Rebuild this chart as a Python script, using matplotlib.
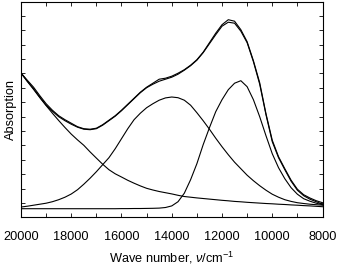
import numpy as np
import matplotlib
matplotlib.use('Agg')
import matplotlib.pyplot as plt

plt.rcParams['font.family'] = ['Liberation Sans', 'DejaVu Sans']
plt.rcParams['mathtext.fontset'] = 'custom'
plt.rcParams['mathtext.rm'] = 'Liberation Sans'
plt.rcParams['mathtext.it'] = 'Liberation Sans:italic'

# wave numbers (cm-1), every 250 from 20000 down to 8000
wavenumber = list(range(20000, 7999, -250))

# absorption, arbitrary units
experimental = [135.7, 128.5, 121.5, 113, 105, 98.5, 93, 89, 85.5, 82,
                80, 79.5, 80.5, 84, 88.5, 93, 98.5, 104.5, 110.5, 116.5,
                121.5, 125.5, 129.5, 130.5, 132.5, 135.5, 139, 143.5, 149, 156.5,
                166, 175.5, 184, 189, 187.5, 179, 167, 148, 126, 95,
                68.5, 52, 40, 28.5, 19.5, 14, 10.7, 8, 6]
fit_sum = [135.7, 127.5, 120, 111.5, 103.5, 97.5, 92, 88, 84.5, 81.5,
           79.5, 79, 80, 83.5, 88, 92.5, 98, 104, 110, 116,
           121, 124.5, 127.5, 129.5, 131.5, 134.5, 138.5, 143, 148.5, 156,
           165, 174, 182.5, 186.5, 185.5, 177.5, 166, 147, 124.5, 94,
           67, 51, 39, 27.5, 18.5, 13, 9.5, 7, 4.5]
background = [135.7, 127.3, 119.3, 111, 103.1, 95.5, 88.2, 81.2, 74.6, 68.8,
              63.4, 56.8, 50.6, 44.5, 39, 34.9, 31.7, 28.4, 25.5, 22.8,
              20.4, 18.7, 17.2, 16, 14.8, 13.4, 12.2, 11.5, 10.8, 10.2,
              9.6, 9, 8.4, 7.9, 7.3, 6.9, 6.4, 6, 5.6, 5.2,
              4.9, 4.5, 4.2, 3.8, 3.5, 3.1, 2.8, 2.4, 2.0]
band_14000 = [1.7, 2.5, 3.5, 4.5, 5.5, 7, 9, 11.5, 14.7, 19,
              24.5, 30.5, 37, 44, 51, 60, 70, 80, 89, 95.5,
              101, 105, 108.5, 110.8, 111.7, 111, 108.5, 103.5, 96, 88,
              79.5, 70.5, 62, 54, 46.5, 40, 33.5, 28, 23, 18.5,
              14.5, 11.5, 9, 7.3, 6, 5.2, 4.5, 4, 3.5]
band_11300 = [0, 0, 0, 0, 0, 0, 0, 0, 0, 0,
              0, 0, 0, 0, 0, 0, 0.1, 0.1, 0.2, 0.2,
              0.3, 0.4, 0.6, 1.2, 2.8, 7, 15.5, 29, 45, 64,
              81, 97, 109, 119, 125.5, 128, 122, 109, 92, 73,
              55, 41, 30, 21, 14.5, 10, 7.5, 5.5, 4]

fig = plt.figure(figsize=(3.37, 2.66), dpi=100)
ax = fig.add_axes([0.0623, 0.1853, 0.8947, 0.8083])

for series in [experimental, fit_sum, background, band_14000, band_11300]:
    ax.plot(wavenumber, series, color='black', lw=0.8)

ax.set_xlim(20000, 8000)
ax.set_ylim(-8, 207)
ax.set_xticks(np.arange(8000, 20001, 2000))
ax.set_xticks(np.arange(8000, 20001, 1000), minor=True)
ax.set_yticks(np.arange(5.8, 200, 14.4))
ax.set_yticklabels([])

ax.tick_params(which='both', direction='in', length=3, width=0.6,
               top=True, right=True, labelsize=9.2, pad=10)
for sp in ax.spines.values():
    sp.set_linewidth(0.8)

ax.set_xlabel(r'Wave number, $\nu$/cm$^{-1}$', fontsize=9.2, labelpad=5)
ax.set_ylabel('Absorption', fontsize=9.2)
ax.yaxis.set_label_coords(-0.014, 0.5)

fig.savefig('out.png', dpi=100)
